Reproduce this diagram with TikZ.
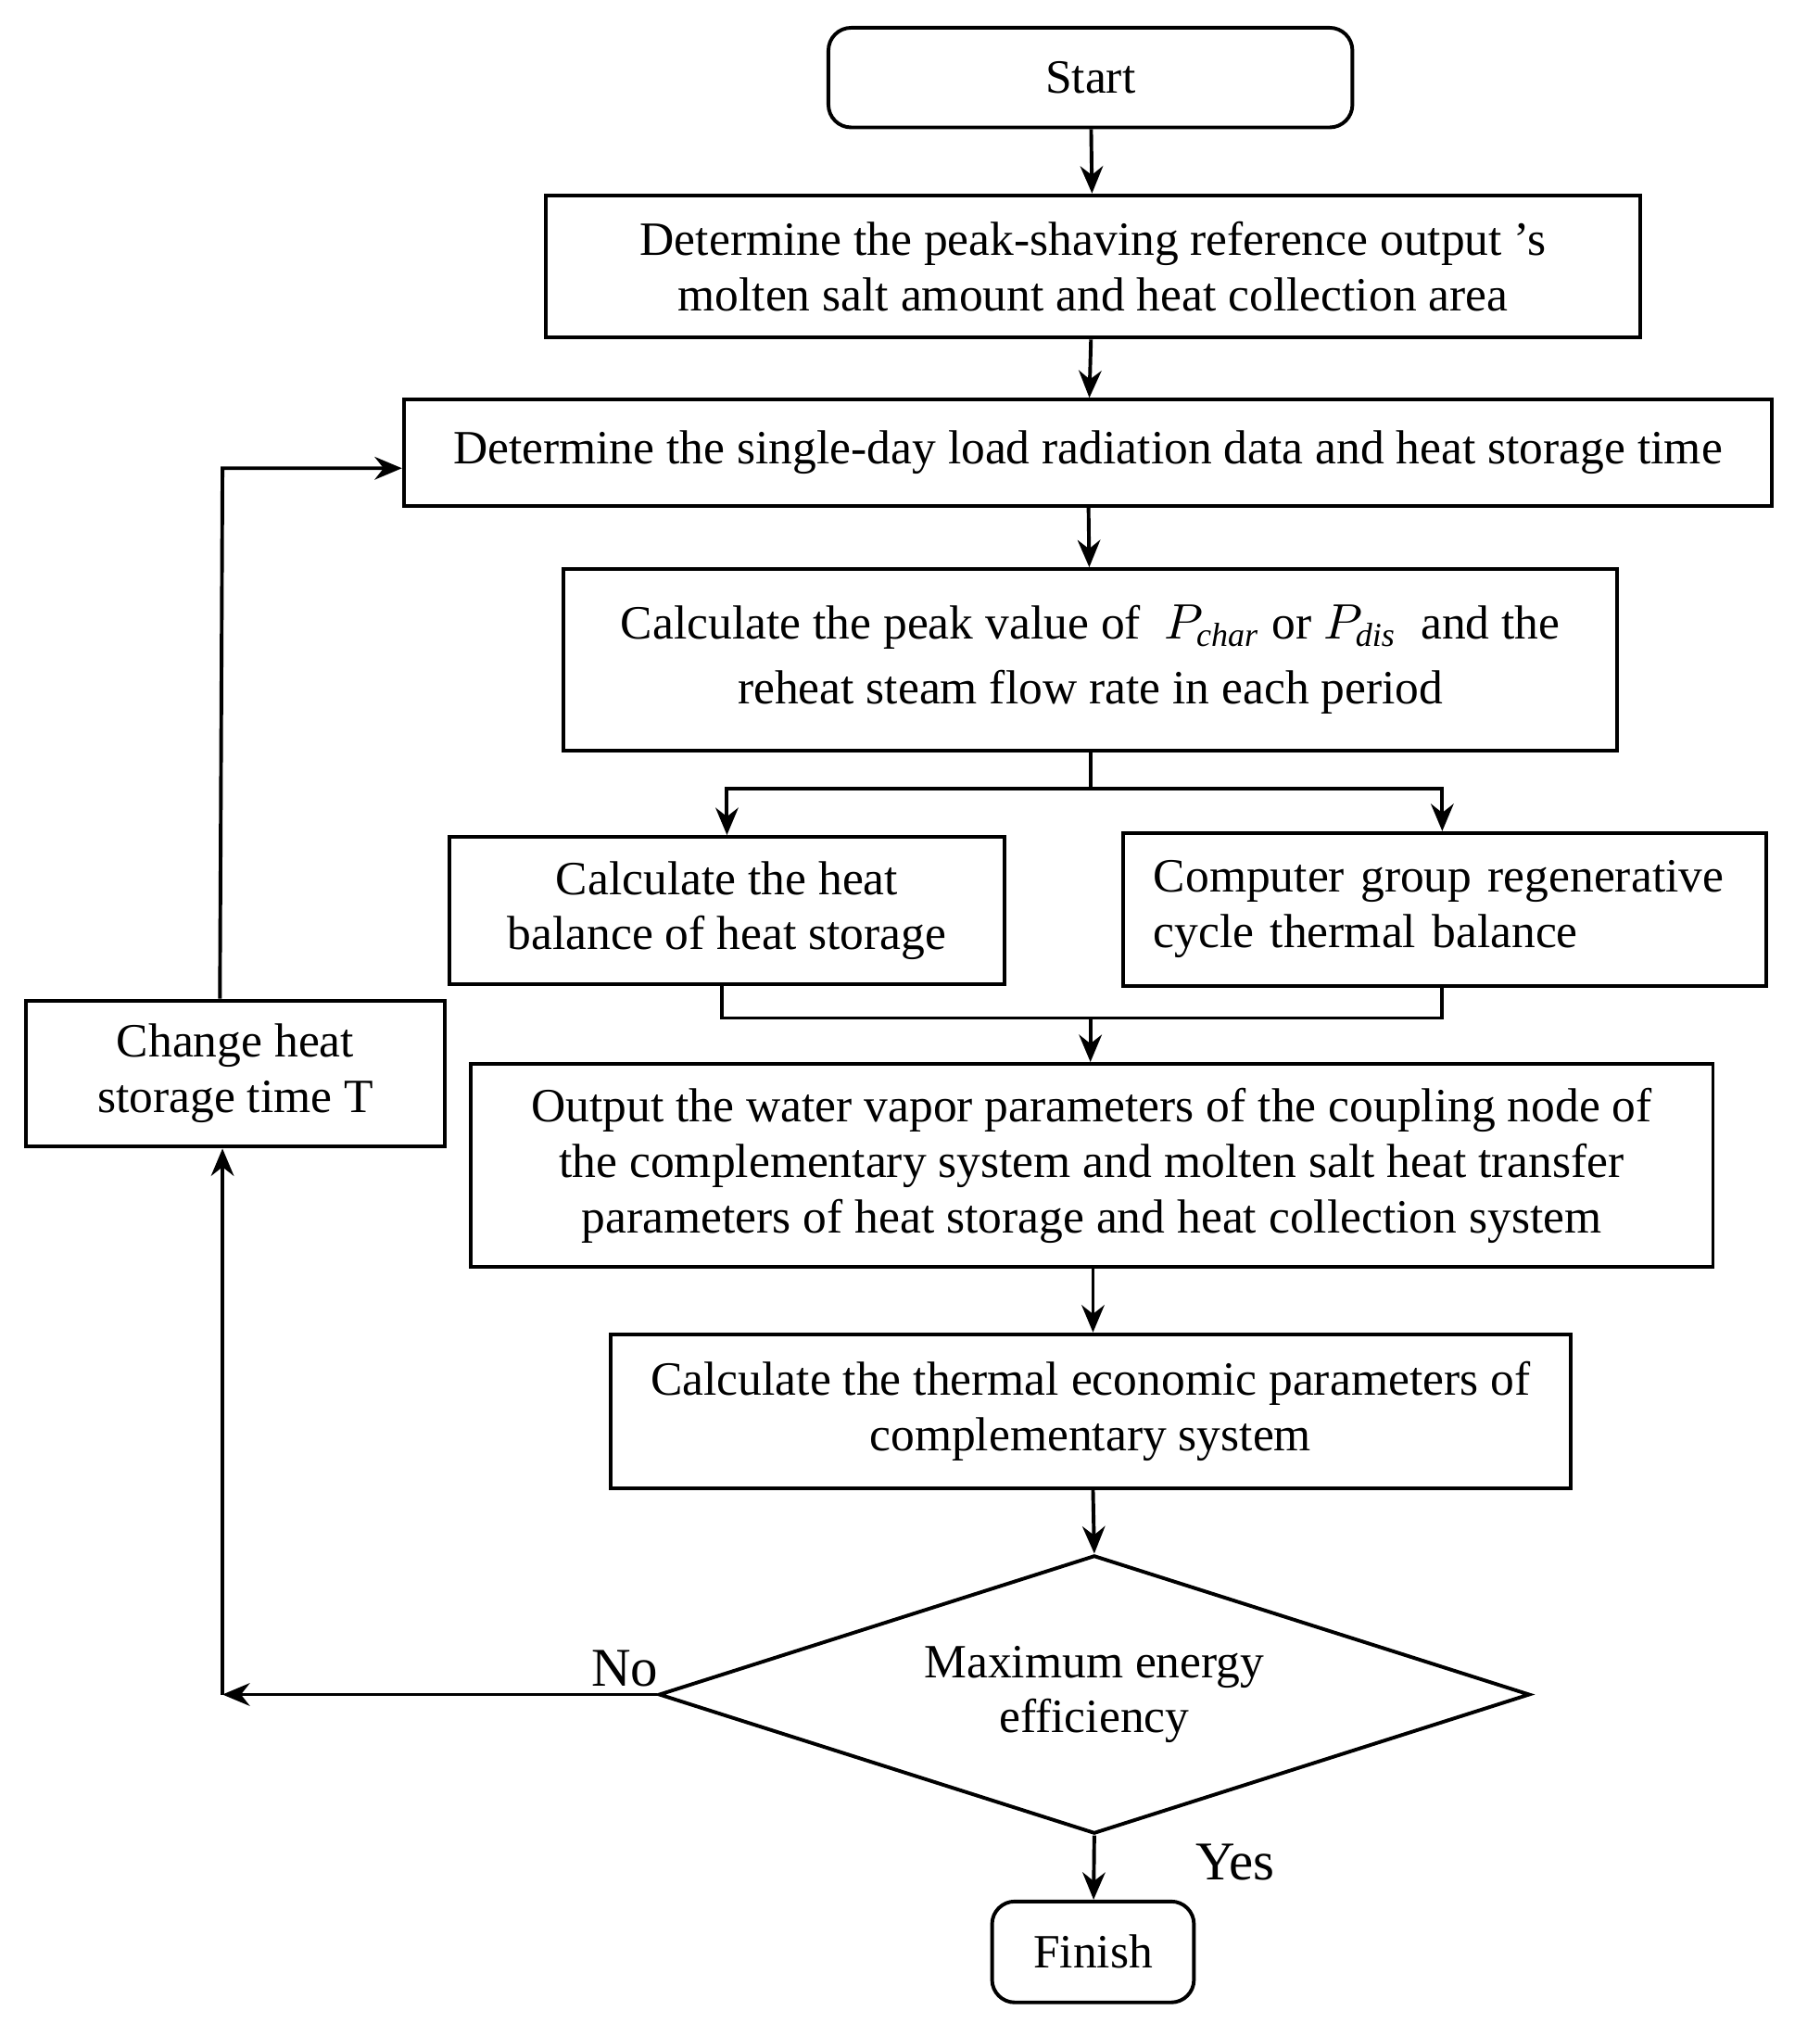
\documentclass[tikz,border=0pt]{standalone}
\usepackage{fontspec}
\setmainfont{Liberation Serif}
\usetikzlibrary{shapes.geometric,arrows.meta}
\begin{document}
\begin{tikzpicture}[x=0.01cm,y=-0.01cm,
  box/.style={draw,line width=0.8pt,align=center,inner sep=0pt,font=\fontsize{10.5}{12.2}\selectfont},
  rbox/.style={box,rounded corners=5pt},
  arr/.style={-{Stealth[length=6pt,width=5pt]},line width=0.8pt},
  ln/.style={line width=0.8pt}]
\useasboundingbox (0,0) rectangle (1407,1574);
\node[rbox,minimum width=144\pgflinewidth,text width=1.44cm,minimum height=0.77cm] (start) at (843,60) {Start};
\node[box,minimum width=8.45cm,minimum height=1.10cm] (b1) at (845,206) {Determine the peak-shaving reference output 's\\molten salt amount and heat collection area};
\node[box,minimum width=10.57cm,minimum height=0.82cm] (b2) at (841,350) {Determine the single-day load radiation data and heat storage time};
\node[box,minimum width=8.14cm,minimum height=1.40cm] (b3) at (843,510) {Calculate the peak value of \ $P_{\mathit{char}}$ or $P_{\mathit{dis}}$ \ and the\\[2pt]reheat steam flow rate in each period};
\node[box,minimum width=4.29cm,minimum height=1.14cm] (b4) at (562,704) {Calculate the heat\\balance of heat storage};
\node[box,minimum width=4.97cm,minimum height=1.18cm,text width=4.5cm,align=left] (b5) at (1117,703) {Computer group regenerative\\cycle thermal balance};
\node[box,minimum width=9.60cm,minimum height=1.57cm] (b6) at (844,901) {Output the water vapor parameters of the coupling node of\\the complementary system and molten salt heat transfer\\parameters of heat storage and heat collection system};
\node[box,minimum width=7.42cm,minimum height=1.19cm] (b7) at (843,1091) {Calculate the thermal economic parameters of\\complementary system};
\node[draw,line width=0.8pt,diamond,aspect=3.13,minimum width=6.73cm,minimum height=2.15cm,inner sep=0pt,align=center,font=\fontsize{10.5}{12.2}\selectfont] (d) at (846,1310) {Maximum energy\\efficiency};
\node[rbox,minimum width=1.56cm,minimum height=0.78cm] (fin) at (845,1509) {Finish};
\node[box,minimum width=3.24cm,minimum height=1.13cm] (ch) at (182,830) {Change heat\\storage time T};
\draw[arr] (start) -- (b1);
\draw[arr] (b1) -- (b2);
\draw[arr] (b2) -- (b3);
\coordinate (s) at (843,610);
\draw[ln] (b3.south) -- (s);
\draw[arr] (s) -- (562,610) -- (b4.north -| 562,0);
\draw[arr] (s) -- (1115,610) -- (b5.north -| 1115,0);
\coordinate (j) at (843,787);
\draw[ln] (b4.south -| 558,0) -- (558,787) -- (1115,787) -- (b5.south -| 1115,0);
\draw[arr] (j) -- (b6.north -| j);
\draw[arr] (b6.south -| 845,0) -- (b7.north -| 845,0);
\draw[arr] (b7.south -| 845,0) -- (d.north);
\draw[arr] (d.south) -- (fin);
\coordinate (c) at (172,1310);
\draw[arr] (d.west) -- (c);
\draw[arr] (c) -- (ch.south -| c);
\draw[arr] (ch.north -| 170,0) -- (172,362) -- (b2.west |- 0,362);
\node[font=\fontsize{12}{14}\selectfont] (no) at (483,1290) {No};
\node[font=\fontsize{12}{14}\selectfont] (yes) at (955,1440) {Yes};
\end{tikzpicture}
\end{document}
